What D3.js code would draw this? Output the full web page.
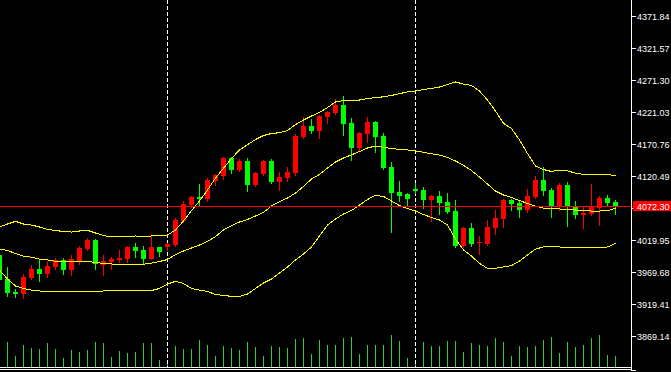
<!DOCTYPE html>
<html><head><meta charset="utf-8">
<script src="https://cdn.jsdelivr.net/npm/d3@7"></script>
<style>html,body{margin:0;padding:0;background:#000;overflow:hidden}</style>
</head><body><svg id="c" width="671" height="372"></svg>
<script>
// bar index (-1 = partially visible bar at left edge)
const barIndex = d3.range(-1, 77);
const opens = [3995.9,3958.2,3938.2,3934.6,3959.8,3974.0,3966.1,3977.1,3988.1,3972.4,
3986.5,4005.4,4019.5,3980.2,3985.4,3988.1,3990.1,4008.0,4003.8,3990.1,
4008.0,4009.0,4011.7,4049.3,4074.4,4087.0,4083.9,4112.2,4120.1,4148.3,
4129.5,4143.6,4106.0,4123.3,4143.6,4110.6,4117.0,4124.8,4181.3,4198.6,
4190.7,4212.7,4219.0,4231.6,4203.3,4164.0,4186.0,4204.9,4182.9,4134.2,
4094.9,4091.7,4099.6,4098.0,4082.3,4088.6,4079.2,4065.0,4010.1,4038.3,
4014.3,4013.2,4038.3,4052.5,4082.3,4077.6,4066.6,4087.0,4113.8,4098.0,
4071.3,4106.0,4072.9,4058.7,4060.3,4069.7,4085.4,4079.2];
const highs = [4000.7,3977.1,3942.5,3965.6,3980.2,3988.1,3986.5,3991.2,3991.2,3995.9,
4010.1,4022.6,4021.1,3995.9,3993.3,4003.8,4010.1,4014.8,4010.1,4028.9,
4008.5,4015.3,4054.5,4080.7,4088.6,4107.5,4117.0,4123.3,4149.5,4149.9,
4146.8,4148.3,4126.4,4145.2,4146.8,4126.4,4134.2,4186.0,4212.7,4209.6,
4215.8,4222.1,4241.0,4245.7,4211.2,4189.1,4212.7,4206.4,4187.6,4142.0,
4112.2,4093.3,4109.1,4102.7,4090.2,4096.5,4093.3,4082.3,4039.9,4046.2,
4025.8,4050.9,4066.6,4083.9,4083.9,4082.3,4099.6,4120.1,4134.2,4101.2,
4109.1,4110.6,4080.7,4071.3,4107.5,4088.6,4090.2,4082.3];
const lows = [3951.9,3931.5,3930.4,3928.8,3958.2,3955.5,3961.4,3974.0,3966.1,3964.5,
3981.8,4003.8,3974.0,3964.5,3974.0,3984.5,3985.4,3993.3,3983.9,3989.7,
3994.4,4004.3,4010.1,4047.8,4071.8,4074.4,4080.7,4106.0,4115.4,4124.8,
4127.9,4096.5,4104.4,4121.7,4109.1,4098.0,4112.2,4121.7,4179.7,4187.6,
4179.7,4203.3,4217.4,4184.4,4145.2,4159.3,4173.4,4157.7,4131.0,4032.1,
4080.7,4074.4,4093.3,4069.7,4049.3,4060.3,4061.9,4008.5,4008.5,4010.1,
3997.5,4011.7,4028.9,4039.9,4066.6,4055.6,4063.5,4085.4,4090.2,4055.6,
4066.6,4041.4,4054.0,4038.3,4058.7,4043.0,4072.9,4060.3];
const closes = [3956.6,3936.7,3935.1,3961.4,3974.0,3966.1,3978.7,3988.1,3972.4,3989.7,
4006.9,4019.5,3981.8,3986.5,3989.7,3991.2,4008.5,4002.2,3990.1,4008.5,
4000.7,4013.2,4050.9,4076.0,4087.0,4083.9,4113.8,4121.7,4148.3,4129.5,
4143.6,4106.0,4124.8,4143.6,4110.6,4118.5,4126.4,4182.9,4198.6,4190.7,
4214.3,4220.6,4231.6,4201.7,4164.0,4187.6,4204.9,4181.3,4132.6,4093.3,
4088.6,4083.9,4096.5,4082.3,4088.6,4077.6,4063.5,4010.1,4038.3,4013.2,
4016.4,4039.9,4054.0,4082.3,4076.0,4066.6,4088.6,4113.8,4096.5,4072.9,
4106.0,4071.3,4058.7,4061.9,4071.3,4085.4,4077.6,4072.3];
const volumes = [60,
74,33,66,57,54,72,54,27,51,45,51,75,72,30,48,42,45,72,72,21,
11,63,54,54,81,66,33,63,57,51,75,60,33,63,60,57,84,87,39,81,
66,66,87,90,39,66,66,66,96,78,27,11,75,63,63,78,78,45,72,66,
63,87,75,33,63,60,63,81,90,42,75,60,66,87,96,36,33];
const upperBand = [4039.9,4044.6,4048.8,4044.6,4043.0,4039.9,4036.0,4034.4,4032.8,4032.0,
4033.6,4034.7,4030.5,4026.5,4024.2,4024.2,4024.2,4025.8,4024.2,4025.8,
4027.3,4027.3,4035.2,4049.3,4065.8,4080.7,4098.0,4116.9,4132.1,4147.5,
4160.9,4169.2,4177.3,4183.6,4186.8,4188.0,4191.5,4200.9,4208.0,4214.3,
4219.8,4227.6,4236.3,4238.6,4238.9,4239.4,4241.8,4243.2,4244.4,4246.5,
4249.4,4252.0,4253.5,4255.9,4257.5,4259.8,4263.7,4267.7,4264.5,4262.2,
4253.5,4239.4,4222.1,4202.8,4194.6,4176.6,4155.4,4135.7,4130.2,4127.1,
4129.4,4127.9,4124.7,4122.4,4121.6,4121.6,4123.1,4120.0];
const middleBand = [4005.3,4003.0,3998.3,3994.3,3992.4,3989.6,3988.1,3986.0,3985.7,3985.4,
3986.0,3986.0,3984.1,3982.6,3981.8,3981.3,3981.3,3981.3,3981.3,3983.3,
3985.7,3988.8,3996.7,4002.2,4006.9,4011.6,4017.1,4024.9,4035.2,4042.2,
4047.7,4051.7,4057.2,4062.7,4072.9,4079.9,4085.4,4093.3,4103.5,4115.3,
4122.4,4132.6,4142.0,4148.3,4153.3,4158.5,4164.0,4167.1,4165.1,4163.0,
4161.9,4160.9,4159.3,4157.2,4154.9,4153.0,4149.1,4143.6,4136.8,4128.6,
4118.4,4107.4,4096.4,4090.2,4086.1,4081.5,4076.8,4072.4,4069.7,4068.5,
4068.2,4067.4,4066.6,4065.8,4065.0,4065.0,4065.3,4069.3];
const lowerBand = [3972.3,3958.2,3947.2,3943.3,3940.9,3939.4,3938.3,3937.8,3937.8,3937.8,
3937.8,3938.3,3938.9,3939.4,3940.1,3940.1,3939.4,3939.4,3939.4,3940.1,
3943.3,3950.3,3954.6,3951.1,3943.3,3940.9,3938.6,3933.9,3932.3,3931.0,
3931.0,3934.6,3943.3,3951.9,3958.2,3967.6,3977.1,3988.1,3997.5,4008.5,
4025.8,4043.0,4052.5,4060.3,4065.8,4074.4,4083.1,4089.7,4087.8,4080.7,
4073.7,4069.0,4065.0,4059.5,4054.8,4050.9,4043.0,4021.0,4003.8,3994.3,
3982.6,3975.0,3975.0,3977.1,3979.4,3986.5,3995.9,4005.3,4008.5,4009.3,
4008.5,4008.0,4008.0,4008.0,4008.0,4008.0,4008.5,4014.3];
// tick labels visible on the price axis (4070.22 sits under the current-price tag)
const priceTicks = ["4371.84","4321.57","4271.30","4221.03","4170.76","4120.49","4019.95","3969.68","3919.41","3869.14","3818.87"];
const hiddenTick = 4070.22;
const separators = [20, 51];
const lastPrice = 4072.30;

const W = 671, H = 372, PR = 631, PB = 367;
const svg = d3.select("#c");
svg.append("rect").attr("width", W).attr("height", H).attr("fill", "#000");
svg.append("defs").append("clipPath").attr("id", "clip")
  .append("rect").attr("x", 0).attr("y", 0).attr("width", PR).attr("height", PB);

const x = d3.scaleBand().domain(barIndex).range([-4.5, 619.5]).padding(0);
const cx = k => x(k) + x.bandwidth() / 2;
const y = d3.scaleLinear().domain([3869.14, 4371.84]).range([335.7, 15.7]);
const yv = d3.scaleLinear().domain([0, 96]).range([PB, PB - 32]);

const plot = svg.append("g").attr("clip-path", "url(#clip)");

// volumes
plot.append("g").selectAll("line").data(volumes).join("line")
  .attr("x1", (d, i) => cx(barIndex[i])).attr("x2", (d, i) => cx(barIndex[i]))
  .attr("y1", d => Math.round(yv(d))).attr("y2", PB)
  .attr("stroke", "#32cd32").attr("stroke-width", 1).attr("shape-rendering", "crispEdges");

// separators
plot.append("g").selectAll("line").data(separators).join("line")
  .attr("x1", d => cx(d)).attr("x2", d => cx(d)).attr("y1", 0).attr("y2", PB)
  .attr("stroke", "#fff").attr("stroke-dasharray", "4,2").attr("shape-rendering", "crispEdges");

// current price line
const yl = Math.round(y(lastPrice)) + 0.5;
svg.append("line").attr("x1", 0).attr("x2", 634).attr("y1", yl).attr("y2", yl)
  .attr("stroke", "#ff0000").attr("shape-rendering", "crispEdges");

// candles
const candles = barIndex.map((k, i) => ({k, o: opens[i], h: highs[i], l: lows[i], c: closes[i]}));
const cg = plot.append("g");
cg.selectAll("line").data(candles).join("line")
  .attr("x1", d => cx(d.k)).attr("x2", d => cx(d.k))
  .attr("y1", d => Math.round(y(d.h))).attr("y2", d => Math.round(y(d.l)) + 1)
  .attr("stroke", d => d.c >= d.o ? "#ff0000" : "#00ff00").attr("shape-rendering", "crispEdges");
cg.selectAll("rect").data(candles).join("rect")
  .attr("x", d => cx(d.k) - 2.5).attr("width", 5)
  .attr("y", d => Math.round(y(Math.max(d.o, d.c))))
  .attr("height", d => Math.max(1, Math.round(y(Math.min(d.o, d.c))) - Math.round(y(Math.max(d.o, d.c)))))
  .attr("fill", d => d.c >= d.o ? "#ff0000" : "#00ff00").attr("shape-rendering", "crispEdges");

// bands
const line = d3.line().x((d, i) => cx(barIndex[i])).y(d => y(d));
[upperBand, middleBand, lowerBand].forEach(b => {
  plot.append("path").attr("d", line(b)).attr("fill", "none")
    .attr("stroke", "#ffff00").attr("stroke-width", 1).attr("shape-rendering", "crispEdges");
});

// frame
svg.append("line").attr("x1", PR + 0.5).attr("x2", PR + 0.5).attr("y1", 0).attr("y2", 370)
  .attr("stroke", "#fff").attr("shape-rendering", "crispEdges");
[PB + 0.5, PB + 2.5].forEach(v => svg.append("line").attr("x1", 0).attr("x2", PR).attr("y1", v).attr("y2", v)
  .attr("stroke", "#fff").attr("shape-rendering", "crispEdges"));

// price axis
const ax = svg.append("g");
const hy = Math.round(y(hiddenTick)) + 0.5;
ax.append("line").attr("x1", PR).attr("x2", PR + 5).attr("y1", hy).attr("y2", hy)
  .attr("stroke", "#fff").attr("shape-rendering", "crispEdges");
priceTicks.forEach((t, i) => {
  const v = +t;
  const last = i === priceTicks.length - 1;
  const yy = last ? 370.5 : Math.round(y(v)) + 0.5;
  ax.append("line").attr("x1", PR).attr("x2", PR + 5).attr("y1", yy).attr("y2", yy)
    .attr("stroke", "#fff").attr("shape-rendering", "crispEdges");
  ax.append("text").attr("x", PR + 6).attr("y", last ? yy + 7 : yy).attr("dy", last ? 0 : "0.35em")
    .attr("fill", "#fff").attr("font-family", "Liberation Sans, Arial, sans-serif").attr("font-size", 9).text(t);
});
// current price label
svg.append("rect").attr("x", 633).attr("y", 201).attr("width", 38).attr("height", 10).attr("fill", "#ff0000");
svg.append("text").attr("x", PR + 6).attr("y", yl).attr("dy", "0.35em").attr("fill", "#fff")
  .attr("font-family", "Liberation Sans, Arial, sans-serif").attr("font-size", 9).text(lastPrice.toFixed(2));
</script></body></html>
